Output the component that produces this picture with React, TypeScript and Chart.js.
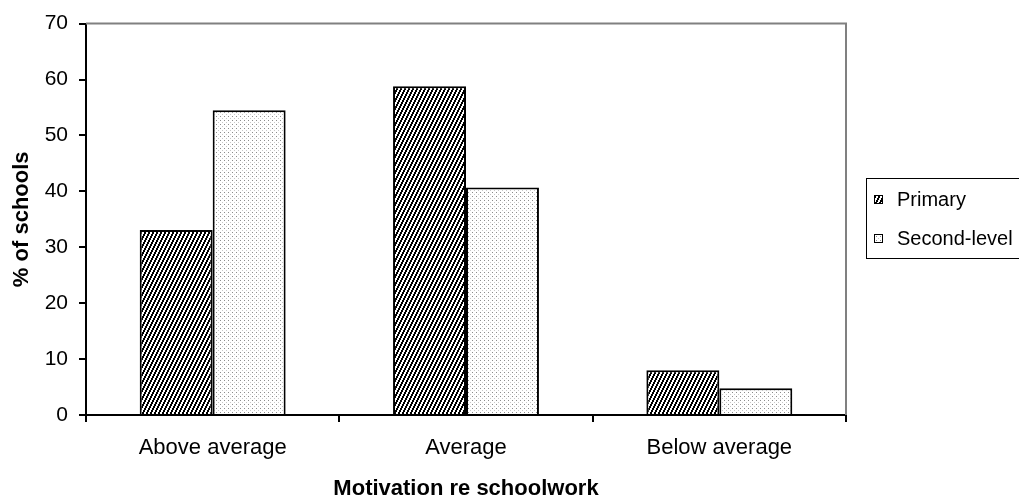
import React, { useEffect, useRef } from "react";
import { Chart, registerables } from "chart.js";

Chart.register(...registerables);

const categories = ["Above average", "Average", "Below average"];
const primaryValues = [33.1, 58.8, 8.0];
const secondLevelValues = [54.5, 40.7, 4.8];
const seriesLabels = ["Primary", "Second-level"];
const yMin = 0;
const yMax = 70;
const yStep = 10;
const xTitle = "Motivation re schoolwork";
const yTitle = "% of schools";

const FONT = "'Liberation Sans', Arial, sans-serif";

function makeHatch(): CanvasPattern | string {
  const c = document.createElement("canvas");
  c.width = 4;
  c.height = 8;
  const ctx = c.getContext("2d");
  if (!ctx) return "#000";
  ctx.fillStyle = "#fff";
  ctx.fillRect(0, 0, 4, 8);
  ctx.fillStyle = "#000";
  for (let y = 0; y < 8; y++) {
    const off = ((-Math.floor(y / 2)) % 4 + 4) % 4;
    ctx.fillRect(off, y, 1, 1);
    ctx.fillRect((off + 1) % 4, y, 1, 1);
  }
  const p = ctx.createPattern(c, "repeat");
  return p || "#000";
}

function makeDots(): CanvasPattern | string {
  const c = document.createElement("canvas");
  c.width = 4;
  c.height = 4;
  const ctx = c.getContext("2d");
  if (!ctx) return "#eee";
  ctx.fillStyle = "#fff";
  ctx.fillRect(0, 0, 4, 4);
  ctx.fillStyle = "#8c8c8c";
  ctx.fillRect(0, 0, 1, 1);
  ctx.fillStyle = "#c8c8c8";
  ctx.fillRect(2, 2, 1, 1);
  const p = ctx.createPattern(c, "repeat");
  return p || "#eee";
}

export default function App() {
  const ref = useRef<HTMLCanvasElement | null>(null);

  useEffect(() => {
    if (!ref.current) return;
    const hatch = makeHatch();
    const dots = makeDots();

    const framePlugin = {
      id: "frameAndLegend",
      afterDraw(chart: any) {
        const { ctx, chartArea } = chart;
        ctx.save();
        // grey plot frame (top & right)
        ctx.strokeStyle = "#808080";
        ctx.lineWidth = 2;
        ctx.beginPath();
        ctx.moveTo(chartArea.left, chartArea.top);
        ctx.lineTo(chartArea.right, chartArea.top);
        ctx.lineTo(chartArea.right, chartArea.bottom);
        ctx.stroke();

        // legend
        ctx.strokeStyle = "#000";
        ctx.lineWidth = 1;
        ctx.strokeRect(866.5, 178.5, 200, 80);
        const items = [
          { label: seriesLabels[0], fill: hatch, y: 199 },
          { label: seriesLabels[1], fill: dots, y: 238 },
        ];
        ctx.font = `20px ${FONT}`;
        ctx.textBaseline = "middle";
        ctx.textAlign = "left";
        for (const it of items) {
          ctx.fillStyle = it.fill as any;
          ctx.fillRect(874, it.y - 4, 8, 8);
          ctx.strokeStyle = "#000";
          ctx.strokeRect(874.5, it.y - 4 + 0.5, 8, 8);
          ctx.fillStyle = "#000";
          ctx.fillText(it.label, 897, it.y + 1);
        }
        ctx.restore();
      },
    };

    const chart = new Chart(ref.current, {
      type: "bar",
      data: {
        labels: categories,
        datasets: [
          {
            label: seriesLabels[0],
            data: primaryValues,
            backgroundColor: hatch as any,
            borderColor: "#000",
            borderWidth: 2,
            categoryPercentage: 0.576,
            barPercentage: 1,
          },
          {
            label: seriesLabels[1],
            data: secondLevelValues,
            backgroundColor: dots as any,
            borderColor: "#000",
            borderWidth: 2,
            categoryPercentage: 0.576,
            barPercentage: 1,
          },
        ],
      },
      options: {
        animation: false,
        responsive: false,
        devicePixelRatio: 1,
        layout: { padding: { top: 20, right: 173, left: 0, bottom: 0 } },
        plugins: {
          legend: { display: false },
          tooltip: { enabled: false },
        },
        scales: {
          x: {
            afterFit(scale: any) {
              scale.height = 85;
            },
            grid: {
              display: true,
              drawOnChartArea: false,
              drawTicks: true,
              tickLength: 7,
              color: "#000",
              lineWidth: 2,
              offset: true,
            },
            border: { display: true, color: "#000", width: 2 },
            ticks: {
              color: "#000",
              font: { family: FONT, size: 22 },
              padding: 13,
              maxRotation: 0,
            },
            title: {
              display: true,
              text: xTitle,
              color: "#000",
              font: { family: FONT, size: 22, weight: "bold", lineHeight: 1 },
              padding: { top: 0, bottom: 0 },
            },
          },
          y: {
            min: yMin,
            max: yMax,
            afterFit(scale: any) {
              scale.width = 86;
            },
            grid: {
              display: true,
              drawOnChartArea: false,
              drawTicks: true,
              tickLength: 7,
              color: "#000",
              lineWidth: 2,
            },
            border: { display: true, color: "#000", width: 2 },
            ticks: {
              stepSize: yStep,
              color: "#000",
              font: { family: FONT, size: 21 },
              padding: 11,
            },
            title: {
              display: true,
              text: yTitle,
              color: "#000",
              font: { family: FONT, size: 22, weight: "bold", lineHeight: 1 },
              padding: { top: 11, bottom: 0 },
            },
          },
        },
      },
      plugins: [framePlugin],
    });
    return () => chart.destroy();
  }, []);

  return (
    <div style={{ position: "absolute", left: 0, top: 0, width: 1019, height: 500, background: "#fff" }}>
      <canvas ref={ref} width={1019} height={500} style={{ width: 1019, height: 500, display: "block" }} />
    </div>
  );
}
